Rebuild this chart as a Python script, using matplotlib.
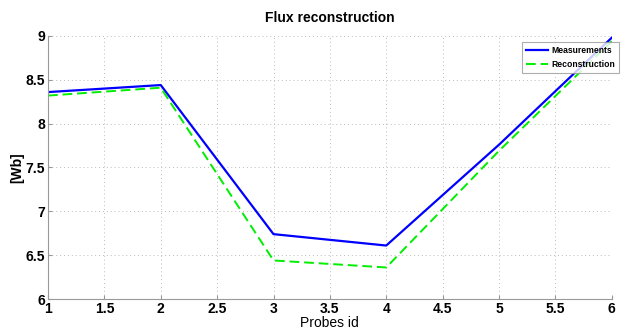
import matplotlib
matplotlib.use("Agg")
import matplotlib.pyplot as plt

probes = [1, 2, 3, 4, 5, 6]
measurements = [8.36, 8.44, 6.74, 6.61, 7.76, 8.98]
reconstruction = [8.32, 8.41, 6.44, 6.36, 7.69, 8.94]
xticks = [1, 1.5, 2, 2.5, 3, 3.5, 4, 4.5, 5, 5.5, 6]
yticks = [6, 6.5, 7, 7.5, 8, 8.5, 9]

plt.rcParams['font.family'] = ['Liberation Sans', 'DejaVu Sans']

fig = plt.figure(figsize=(6.25, 3.33), dpi=100)
ax = fig.add_axes([0.0768, 0.102, 0.902, 0.790])
ax.plot(probes, measurements, color='#0000ff', lw=1.6, label='Measurements')
ax.plot(probes, reconstruction, color='#00ee00', lw=1.4, ls=(0, (5, 2.5)), label='Reconstruction')
ax.set_xlim(1, 6)
ax.set_ylim(6, 9)
ax.set_xticks(xticks)
ax.set_xticklabels([f"{t:g}" for t in xticks])
ax.set_yticks(yticks)
ax.set_yticklabels([f"{t:g}" for t in yticks])
ax.grid(True, ls=(0, (1, 3)), color='#bbbbbb', lw=0.7)
for s in ['top', 'right']:
    ax.spines[s].set_visible(False)
for s in ['left', 'bottom']:
    ax.spines[s].set_color('#999999')
ax.tick_params(direction='in', length=3, color='#999999', labelsize=10, pad=2)
for lab in ax.get_xticklabels() + ax.get_yticklabels():
    lab.set_fontweight('bold')
ax.set_title('Flux reconstruction', fontsize=10, fontweight='bold', pad=10)
ax.set_xlabel('Probes id', fontsize=10, labelpad=0)
ax.set_ylabel('[Wb]', fontsize=10, fontweight='bold', labelpad=1)
leg = ax.legend(loc='upper right', bbox_to_anchor=(1.013, 0.978),
                prop={'size': 6.2, 'weight': 'bold'},
                frameon=True, fancybox=False, handlelength=2.6, borderpad=0.5,
                labelspacing=0.55, handletextpad=0.3, borderaxespad=0)
leg.get_frame().set_edgecolor('#999999')
leg.get_frame().set_linewidth(0.8)
fig.savefig('out.png', dpi=100)
